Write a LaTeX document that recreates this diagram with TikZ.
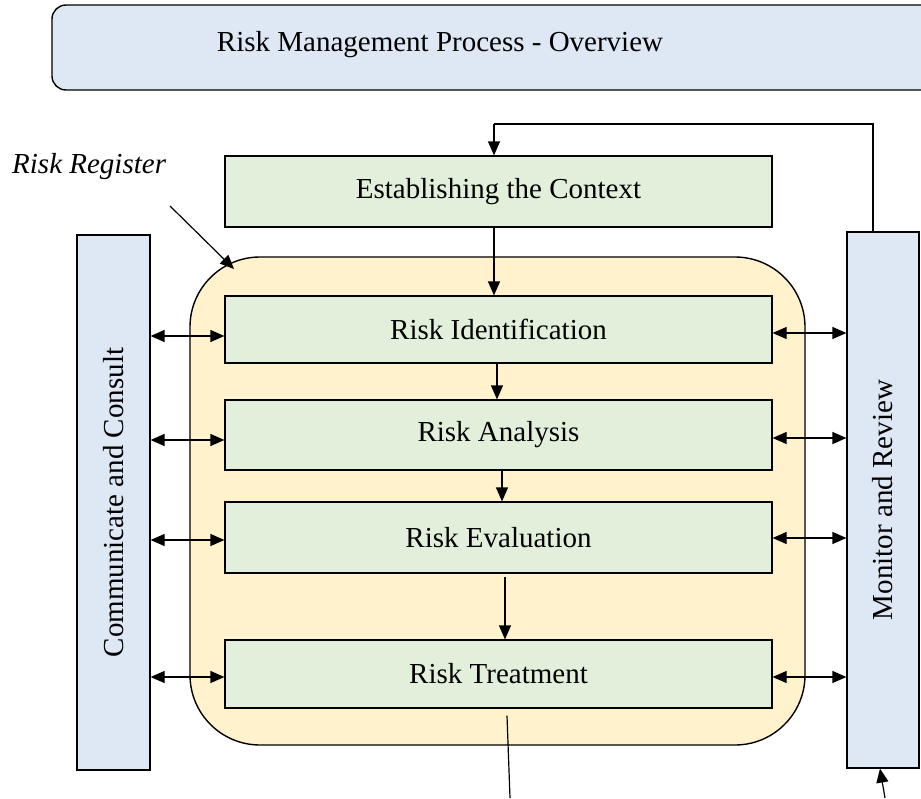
\documentclass[tikz,border=0pt]{standalone}
\usepackage{fontspec}
\setmainfont{Liberation Serif}
\usepackage{graphicx}
\usetikzlibrary{arrows.meta,calc}
\definecolor{lblue}{HTML}{DEE8F4}
\definecolor{lgreen}{HTML}{E2EFDA}
\definecolor{lyellow}{HTML}{FFF2CC}
\tikzset{
  stepbox/.style={draw=black, line width=1.2pt, fill=lgreen, minimum width=547pt, inner sep=0pt, font=\fontsize{29}{33}\selectfont},
  sidebox/.style={draw=black, line width=1.2pt, fill=lblue, inner sep=0pt, font=\fontsize{29}{33}\selectfont},
  arr/.style={line width=1.2pt, -{Triangle[length=14pt,width=12pt]}},
  dbl/.style={line width=1.2pt, {Triangle[length=14pt,width=12pt]}-{Triangle[length=14pt,width=12pt]}},
  plain/.style={line width=1.2pt}
}
\begin{document}
\begin{tikzpicture}[x=1pt,y=-1pt]
\useasboundingbox (0,0) rectangle (921,798);
\clip (0,0) rectangle (921,798);
% title
\node[draw=black, line width=1.4pt, fill=lblue, rounded corners=14pt, minimum width=900pt, minimum height=85pt, inner sep=0pt] (title) at (502,47.5) {};
\node[font=\fontsize{29}{33}\selectfont, inner sep=0pt] (titletext) at (440,45) {Risk Management Process - Overview};
% register
\node[draw=black, line width=1.4pt, fill=lyellow, rounded corners=70pt, minimum width=615pt, minimum height=488pt, inner sep=0pt] (reg) at (497.5,501) {};
% side columns
\node[sidebox, minimum width=73pt, minimum height=535pt] (cc) at (113.5,502.5) {\rotatebox{90}{Communicate and Consult}};
\node[sidebox, minimum width=72pt, minimum height=536pt] (mr) at (883,500) {\rotatebox{90}{Monitor and Review}};
% steps
\node[stepbox, minimum height=71pt] (ec) at (498.5,191.5) {Establishing the Context};
\node[stepbox, minimum height=67pt] (id) at (498.5,329.5) {Risk Identification};
\node[stepbox, minimum height=70pt] (an) at (498.5,435) {Risk Analysis};
\node[stepbox, minimum height=71pt] (ev) at (498.5,537.5) {Risk Evaluation};
\node[stepbox, minimum height=68pt] (tr) at (498.5,674) {Risk Treatment};
% label
\node[font=\fontsize{29}{33}\selectfont\itshape, anchor=west, inner sep=0pt] (rrtext) at (12,167) {Risk Register};
\coordinate (rrstart) at (170,206);
\coordinate (rrend) at (234,269);
\draw[arr] (rrstart) -- (rrend);
% vertical flow
\draw[arr] (ec.south -| 494,0) -- (id.north -| 494,0);
\draw[arr] (id.south -| 497,0) -- (an.north -| 497,0);
\draw[arr] (an.south -| 502,0) -- (ev.north -| 502,0);
\draw[arr] ([yshift=-3pt]ev.south -| 505,0) -- (tr.north -| 505,0);
\coordinate (outb) at (510,798);
\draw[plain] ([yshift=-7pt]tr.south -| 507,0) -- (outb);
% feedback
\coordinate (fbr) at (873,124);
\coordinate (fbl) at (494,124);
\draw[plain] (mr.north -| fbr) -- (fbr) -- (fbl);
\draw[arr] (fbl) -- (ec.north -| fbl);
\coordinate (inr) at (885,798);
\draw[arr] (inr) -- (mr.south -| 880,0);
% side arrows
\foreach \n/\y in {id/336, an/440, ev/540, tr/677}{
  \draw[dbl] (cc.east |- 0,\y) -- (\n.west |- 0,\y);
}
\foreach \n/\y in {id/333, an/438, ev/538, tr/677}{
  \draw[dbl] (\n.east |- 0,\y) -- (mr.west |- 0,\y);
}
\end{tikzpicture}
\end{document}
